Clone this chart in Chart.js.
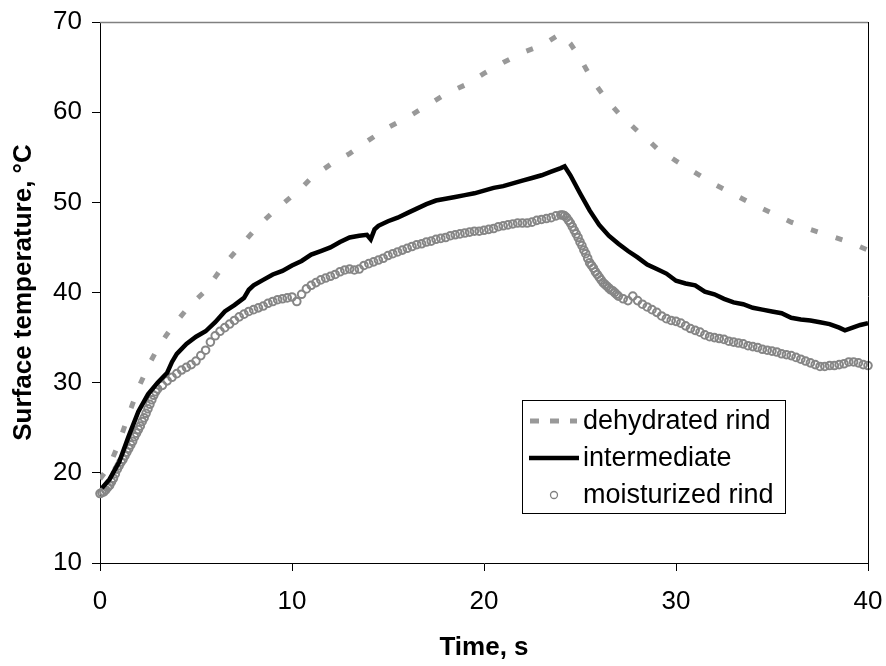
<!DOCTYPE html>
<html>
<head>
<meta charset="utf-8">
<script src="https://cdn.jsdelivr.net/npm/chart.js@4.4.1/dist/chart.umd.min.js"></script>
<style>
  html, body { margin: 0; padding: 0; background: #fff; }
  #wrap { width: 886px; height: 666px; }
</style>
</head>
<body>
<div id="wrap"><canvas id="tempChart" width="886" height="666"></canvas></div>
<script>
// values
var seriesNames = ["dehydrated rind", "intermediate", "moisturized rind"];
var xTicks = [0, 10, 20, 30, 40];
var yTicks = [10, 20, 30, 40, 50, 60, 70];

var dehydTime = [0, 0.5, 1, 1.5, 2, 2.5, 3, 3.5, 4, 4.5, 5, 5.5, 6, 6.5, 7, 7.5, 8, 8.5, 9, 9.5, 10, 10.5, 11, 12, 13, 14, 15, 16, 17, 18, 19, 20, 21, 22, 23, 24, 24.5, 25, 25.5, 26, 26.5, 27, 27.5, 28, 28.5, 29, 30, 31, 32, 33, 34, 35, 36, 37, 38, 39, 40];
var dehydTemp = [19.3, 20.8, 23.4, 26.5, 29.4, 31.8, 33.8, 35.4, 36.8, 38.1, 39.2, 40.2, 41.7, 43.2, 44.4, 45.6, 46.8, 47.9, 48.9, 49.8, 50.7, 51.6, 52.7, 54.2, 55.4, 56.9, 58.3, 59.4, 60.7, 62.0, 63.0, 64.3, 65.5, 66.6, 67.4, 68.7, 67.6, 66.0, 64.1, 62.5, 61.1, 59.9, 58.9, 57.9, 57.0, 56.0, 54.6, 53.3, 52.0, 50.9, 49.8, 48.8, 47.8, 47.0, 46.3, 45.6, 44.7];

var interTime = [0.1, 0.5, 1, 1.5, 2, 2.5, 3, 3.5, 3.75, 4, 4.5, 5, 5.5, 6, 6.5, 7, 7.5, 7.75, 8, 8.5, 9, 9.5, 10, 10.5, 11, 11.5, 12, 12.5, 13, 13.5, 13.9, 14.1, 14.3, 14.5, 15, 15.5, 16, 16.5, 17, 17.5, 18, 18.5, 19, 19.5, 20, 20.5, 21, 21.5, 22, 22.5, 23, 23.5, 24, 24.2, 24.5, 25, 25.5, 26, 26.5, 27, 27.5, 28, 28.5, 29, 29.5, 30, 30.5, 31, 31.5, 32, 32.5, 33, 33.5, 34, 34.5, 35, 35.5, 36, 36.5, 37, 37.5, 38, 38.5, 38.8, 39.2, 39.6, 40];
var interTemp = [18.3, 19.3, 21.2, 24.1, 26.8, 28.7, 30.0, 31.1, 32.3, 33.2, 34.3, 35.1, 35.7, 36.7, 37.9, 38.6, 39.4, 40.3, 40.8, 41.4, 42.0, 42.4, 43.0, 43.5, 44.2, 44.6, 45.0, 45.6, 46.1, 46.3, 46.4, 45.9, 47.0, 47.4, 47.9, 48.3, 48.8, 49.3, 49.8, 50.2, 50.4, 50.6, 50.8, 51.0, 51.3, 51.6, 51.8, 52.1, 52.4, 52.7, 53.0, 53.4, 53.8, 54.0, 53.0, 51.0, 49.1, 47.5, 46.3, 45.4, 44.6, 43.9, 43.1, 42.6, 42.1, 41.3, 41.0, 40.8, 40.1, 39.8, 39.3, 38.9, 38.7, 38.3, 38.1, 37.9, 37.7, 37.2, 37.0, 36.9, 36.7, 36.5, 36.1, 35.8, 36.1, 36.4, 36.6];

var moistTime = [0, 0.1, 0.2, 0.3, 0.4, 0.5, 0.6, 0.7, 0.8, 0.9, 1, 1.1, 1.2, 1.3, 1.4, 1.5, 1.6, 1.7, 1.8, 1.9, 2, 2.1, 2.2, 2.3, 2.4, 2.5, 2.6, 2.7, 2.8, 2.9, 3,
  3.25, 3.5, 3.75, 4, 4.25, 4.5, 4.75, 5, 5.25, 5.5, 5.75, 6, 6.25, 6.5, 6.75, 7, 7.25, 7.5, 7.75, 8, 8.25, 8.5, 8.75, 9, 9.25, 9.5, 9.75, 10,
  10.25, 10.5, 10.75, 11, 11.25, 11.5, 11.75, 12, 12.25, 12.5, 12.75, 13, 13.25, 13.5, 13.75, 14, 14.25, 14.5, 14.75, 15, 15.25, 15.5, 15.75, 16,
  16.25, 16.5, 16.75, 17, 17.25, 17.5, 17.75, 18, 18.25, 18.5, 18.75, 19, 19.25, 19.5, 19.75, 20, 20.25, 20.5, 20.75, 21, 21.25, 21.5, 21.75, 22,
  22.25, 22.5, 22.75, 23, 23.25, 23.5, 23.75, 24, 24.1, 24.2, 24.3, 24.4, 24.5, 24.6, 24.7, 24.8, 24.9, 25, 25.1, 25.2, 25.3, 25.4, 25.5, 25.6,
  25.7, 25.8, 25.9, 26, 26.1, 26.2, 26.3, 26.4, 26.5, 26.6, 26.7, 26.8, 26.9, 27, 27.25, 27.5, 27.75, 28, 28.25, 28.5, 28.75, 29, 29.25, 29.5,
  29.75, 30, 30.25, 30.5, 30.75, 31, 31.25, 31.5, 31.75, 32, 32.25, 32.5, 32.75, 33, 33.25, 33.5, 33.75, 34, 34.25, 34.5, 34.75, 35, 35.25,
  35.5, 35.75, 36, 36.25, 36.5, 36.75, 37, 37.25, 37.5, 37.75, 38, 38.25, 38.5, 38.75, 39, 39.25, 39.5, 39.75, 40];
var moistTemp = [17.7, 17.8, 17.9, 18.1, 18.4, 18.6, 19.0, 19.4, 19.9, 20.4, 20.8, 21.2, 21.5, 21.9, 22.3, 22.7, 23.1, 23.5, 24.0, 24.4, 24.8, 25.2, 25.7, 26.1, 26.6, 27.1, 27.6, 28.1, 28.6, 29.0, 29.3,
  29.7, 30.2, 30.6, 31.0, 31.4, 31.7, 32.0, 32.4, 33.0, 33.6, 34.5, 35.2, 35.7, 36.1, 36.5, 36.9, 37.3, 37.6, 37.9, 38.1, 38.3, 38.5, 38.8, 39.0, 39.2, 39.3, 39.4, 39.5,
  39.0, 39.8, 40.4, 40.8, 41.1, 41.4, 41.6, 41.8, 42.0, 42.3, 42.5, 42.6, 42.5, 42.6, 43.0, 43.2, 43.4, 43.6, 43.8, 44.1, 44.3, 44.5, 44.7, 44.9,
  45.1, 45.3, 45.4, 45.6, 45.7, 45.9, 46.0, 46.1, 46.3, 46.4, 46.5, 46.6, 46.7, 46.8, 46.8, 46.9, 47.0, 47.1, 47.3, 47.4, 47.5, 47.6, 47.7, 47.7,
  47.7, 47.8, 48.0, 48.1, 48.2, 48.3, 48.5, 48.6, 48.6, 48.5, 48.3, 48.0, 47.7, 47.3, 46.9, 46.5, 46.1, 45.6, 45.2, 44.7, 44.3, 43.8, 43.3, 43.0,
  42.7, 42.3, 42.0, 41.7, 41.4, 41.1, 40.9, 40.7, 40.5, 40.3, 40.2, 40.0, 39.8, 39.6, 39.3, 39.1, 39.6, 39.1, 38.7, 38.4, 38.1, 37.8, 37.4, 37.1,
  36.9, 36.8, 36.6, 36.3, 36.0, 35.8, 35.6, 35.3, 35.1, 35.0, 34.9, 34.8, 34.6, 34.5, 34.4, 34.3, 34.1, 34.0, 33.9, 33.7, 33.6, 33.5, 33.4,
  33.2, 33.1, 33.0, 32.8, 32.6, 32.4, 32.2, 32.0, 31.8, 31.8, 31.9, 31.9, 32.0, 32.1, 32.3, 32.3, 32.2, 32.0, 31.9];

var FONT = "'Liberation Sans', Arial, sans-serif";

function toPoints(xs, ys) {
    var pts = [];
    for (var i = 0; i < xs.length; i++) {
        pts.push({x: xs[i], y: ys[i]});
    }
    return pts;
}

// frame lines (top grey, right black) and legend box inside the plot
var framePlugin = {
    id: "frame",
    afterDatasetsDraw: function (chart) {
        var ctx = chart.ctx;
        var a = chart.chartArea;
        var xs = chart.scales.x;
        ctx.save();
        ctx.lineWidth = 1.5;
        ctx.strokeStyle = "#808080";
        ctx.beginPath();
        ctx.moveTo(a.left, a.top + 0.5);
        ctx.lineTo(a.right, a.top + 0.5);
        ctx.stroke();
        ctx.lineWidth = 1;
        ctx.strokeStyle = "#000";
        ctx.beginPath();
        ctx.moveTo(Math.round(a.right) + 0.5, a.top);
        ctx.lineTo(Math.round(a.right) + 0.5, a.bottom + 8);
        ctx.stroke();

        // legend
        var bx = Math.round(xs.getPixelForValue(22.0)), by = 400, bw = 263, bh = 113;
        ctx.fillStyle = "#fff";
        ctx.fillRect(bx, by, bw, bh);
        ctx.strokeStyle = "#000";
        ctx.lineWidth = 1;
        ctx.strokeRect(bx + 0.5, by + 0.5, bw, bh);
        var rows = [by + 21, by + 58, by + 95];
        var textX = bx + 61;
        // dehydrated sample
        ctx.strokeStyle = "#999";
        ctx.lineWidth = 5;
        ctx.setLineDash([9, 11]);
        ctx.beginPath();
        ctx.moveTo(bx + 8, rows[0]);
        ctx.lineTo(bx + 55, rows[0]);
        ctx.stroke();
        ctx.setLineDash([]);
        // intermediate sample
        ctx.strokeStyle = "#000";
        ctx.lineWidth = 4.5;
        ctx.beginPath();
        ctx.moveTo(bx + 7, rows[1]);
        ctx.lineTo(bx + 57, rows[1]);
        ctx.stroke();
        // moisturized sample
        ctx.strokeStyle = "#808080";
        ctx.lineWidth = 1.3;
        ctx.beginPath();
        ctx.arc(bx + 32, rows[2], 3.5, 0, Math.PI * 2);
        ctx.stroke();

        ctx.fillStyle = "#000";
        ctx.font = "27px " + FONT;
        ctx.textBaseline = "middle";
        ctx.textAlign = "left";
        for (var i = 0; i < seriesNames.length; i++) {
            ctx.fillText(seriesNames[i], textX, rows[i] + 1);
        }
        ctx.restore();
    }
};

var ctx = document.getElementById("tempChart");
var myChart = new Chart(ctx, {
    type: "line",
    data: {
        datasets: [
            {
                label: seriesNames[1],
                data: toPoints(interTime, interTemp),
                borderColor: "#000",
                borderWidth: 4.5,
                pointRadius: 0,
                tension: 0,
                order: 0
            },
            {
                label: seriesNames[2],
                data: toPoints(moistTime, moistTemp),
                showLine: false,
                pointStyle: "circle",
                pointRadius: 3.8,
                pointBorderWidth: 2,
                pointBorderColor: "#868686",
                pointBackgroundColor: "rgba(255,255,255,0)",
                clip: false,
                order: 1
            },
            {
                label: seriesNames[0],
                data: toPoints(dehydTime, dehydTemp),
                borderColor: "#999",
                borderWidth: 5,
                borderDash: [7, 19],
                pointRadius: 0,
                tension: 0,
                order: 2
            }
        ]
    },
    options: {
        responsive: false,
        animation: false,
        layout: {padding: {top: 22, right: 18, left: 0, bottom: 0}},
        plugins: {legend: {display: false}, tooltip: {enabled: false}},
        scales: {
            x: {
                type: "linear",
                min: 0,
                max: 40,
                afterFit: function (s) { s.height = 103; s.paddingLeft = 0; s.paddingRight = 0; },
                afterBuildTicks: function (s) { s.ticks = xTicks.map(function (v) { return {value: v}; }); },
                grid: {drawOnChartArea: false, drawTicks: true, tickLength: 8, color: "#000"},
                border: {display: true, color: "#000", width: 1},
                ticks: {color: "#000", padding: 15, font: {family: FONT, size: 26}, maxRotation: 0},
                title: {display: true, text: "Time, s", color: "#000", padding: {top: 0, bottom: 3}, font: {family: FONT, size: 26, weight: "bold"}}
            },
            y: {
                min: 10,
                max: 70,
                afterFit: function (s) { s.width = 100; s.paddingTop = 0; s.paddingBottom = 0; },
                afterBuildTicks: function (s) { s.ticks = yTicks.map(function (v) { return {value: v}; }); },
                grid: {drawOnChartArea: false, drawTicks: true, tickLength: 8, color: "#000"},
                border: {display: true, color: "#000", width: 1},
                ticks: {color: "#000", padding: 10, font: {family: FONT, size: 26}},
                title: {display: true, text: "Surface temperature, °C", color: "#000", padding: {top: 8, bottom: 0}, font: {family: FONT, size: 26, weight: "bold"}}
            }
        }
    },
    plugins: [framePlugin]
});
</script>
</body>
</html>
